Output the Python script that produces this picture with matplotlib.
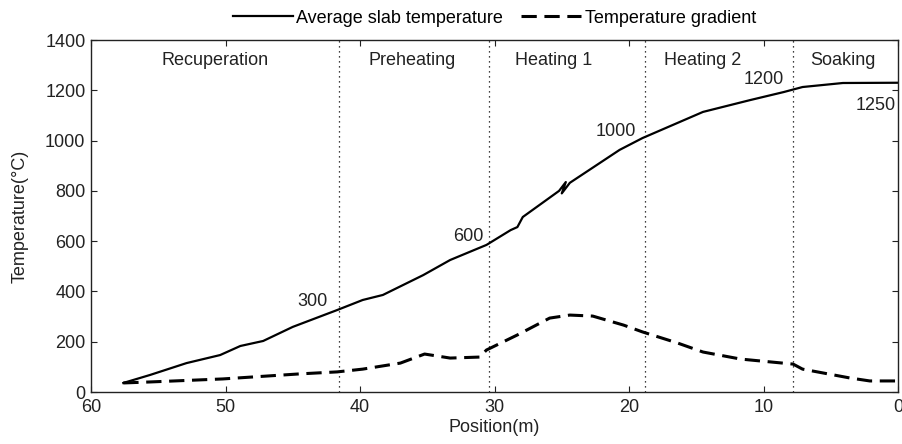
import matplotlib
matplotlib.use("Agg")
import matplotlib.pyplot as plt

# Average slab temperature along the furnace (position in m, temperature in degC)
pos_avg = [57.6, 55.6, 52.9, 50.4, 48.9, 47.2, 45.0, 41.7, 39.8, 38.3, 35.3,
           33.3, 30.6, 28.8, 28.3, 27.9, 25.2, 24.7, 25.0, 24.4, 20.7, 19.0,
           14.5, 11.0, 8.5, 7.1, 4.1, 0.0]
temp_avg = [36, 68, 115, 147, 183, 203, 259, 326, 366, 386, 465,
            525, 585, 644, 656, 696, 800, 835, 790, 832, 963, 1010,
            1114, 1161, 1193, 1213, 1229, 1230]

# Temperature gradient
pos_grad = [57.6, 55.6, 50.2, 44.5, 41.7, 39.8, 37.0, 36.0, 35.2, 33.3, 31.1,
            30.6, 28.3, 25.9, 24.4, 22.7, 20.4, 19.0, 16.4, 14.5, 11.7, 7.8,
            7.1, 3.6, 2.1, 0.0]
temp_grad = [36, 40, 52, 72, 80, 91, 115, 135, 151, 135, 139,
             167, 227, 294, 306, 302, 266, 239, 195, 159, 131, 111,
             91, 56, 44, 44]

# Zone boundaries and names
zone_bounds = [41.6, 30.4, 18.8, 7.8]
zone_names = ["Recuperation", "Preheating", "Heating 1", "Heating 2", "Soaking"]
zone_centers = [50.8, 36.1, 25.6, 14.5, 4.1]

# Point labels: (x, y, text)
point_labels = [(42.4, 358, "300"), (30.8, 617, "600"), (19.5, 1038, "1000"),
                (8.5, 1241, "1200"), (0.2, 1172, "1250")]

plt.rcParams["font.family"] = ["Liberation Sans", "DejaVu Sans"]
fs = 13
txt = "#222222"

fig = plt.figure(figsize=(9.03, 4.44), dpi=100)
ax = fig.add_axes([0.1008, 0.1171, 0.8937, 0.7928])

ax.plot(pos_avg, temp_avg, color="black", lw=1.6, label="Average slab temperature")
ax.plot(pos_grad, temp_grad, color="black", lw=2.2, dashes=(5, 2.5),
        label="Temperature gradient")

for b in zone_bounds:
    ax.axvline(b, color="black", lw=0.9, ls=(0, (1, 3)))

for c, name in zip(zone_centers, zone_names):
    ax.text(c, 1320, name, ha="center", va="center", fontsize=fs, color=txt)

for x, y, t in point_labels:
    va = "top" if t == "1250" else "center"
    ax.text(x, y, t, ha="right", va=va, fontsize=fs, color=txt)

ax.set_xlim(60, 0)
ax.set_ylim(0, 1400)
ax.set_xticks([60, 50, 40, 30, 20, 10, 0])
ax.set_yticks(range(0, 1401, 200))
ax.tick_params(direction="in", length=4, top=True, right=True, labelsize=fs,
               colors=txt)
ax.tick_params(axis="x", pad=5)
ax.tick_params(axis="y", pad=4)
for s in ax.spines.values():
    s.set_linewidth(1.0)
    s.set_color(txt)

ax.set_xlabel("Position(m)", fontsize=fs, labelpad=2, color=txt)
ax.set_ylabel("Temperature(\u00b0C)", fontsize=fs, labelpad=12, color=txt)

ax.legend(loc="center", bbox_to_anchor=(0.5, 1.0625), ncol=2, frameon=False,
          fontsize=fs, handlelength=3.3, handletextpad=0.2, columnspacing=1.0,
          borderaxespad=0.0, borderpad=0.0)

fig.savefig("out.png", dpi=100)
